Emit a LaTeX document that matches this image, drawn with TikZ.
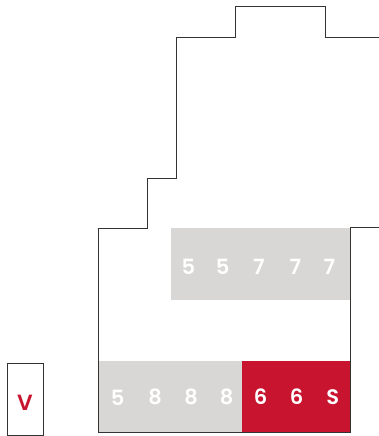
\documentclass[tikz,border=0pt]{standalone}
\usepackage{fontspec}
\setmainfont{Poppins}[BoldFont={Poppins SemiBold}]
\definecolor{cellgray}{HTML}{D8D7D5}
\definecolor{cellred}{HTML}{C8142E}
\definecolor{linegray}{HTML}{333333}
\tikzset{
  outline/.style={draw=linegray, line width=1pt},
  grayfill/.style={fill=cellgray, draw=none},
  redfill/.style={fill=cellred, draw=none},
  digit/.style={text=white, font=\fontsize{21}{21}\selectfont\bfseries, inner sep=0pt},
  vlabel/.style={text=cellred, font=\fontsize{22}{22}\selectfont\bfseries, inner sep=0pt}
}
\begin{document}
\begin{tikzpicture}[x=1pt,y=-1pt]
\useasboundingbox (0,0) rectangle (379,436);
% fills
\fill[grayfill] (171,228) rectangle (350.5,299.5);
\fill[grayfill] (98,361) rectangle (242,432.5);
\fill[redfill] (242,361) rectangle (350.5,432.5);
% outline
\coordinate (p0) at (98,432.5);
\coordinate (p1) at (98,228);
\coordinate (p2) at (147.7,228);
\coordinate (p3) at (147.7,178.7);
\coordinate (p4) at (176.7,178.7);
\coordinate (p5) at (176.7,37.7);
\coordinate (p6) at (235.3,37.7);
\coordinate (p7) at (235.3,6.3);
\coordinate (p8) at (325.7,6.3);
\coordinate (p9) at (325.7,37.7);
\coordinate (p10) at (379,37.7);
\coordinate (q0) at (379,227);
\coordinate (q1) at (350.7,227);
\coordinate (q2) at (350.7,432.5);
\draw[outline] (p0) -- (p1) -- (p2) -- (p3) -- (p4) -- (p5) -- (p6) -- (p7) -- (p8) -- (p9) -- (p10);
\draw[outline] (q0) -- (q1) -- (q2) -- (p0);
% top row digits
\node[digit] (t1) at (188.3,266.7) {5};
\node[digit] (t2) at (222.7,266.7) {5};
\node[digit] (t3) at (259,266.7) {7};
\node[digit] (t4) at (295.3,266.7) {7};
\node[digit] (t5) at (329.3,266.7) {7};
% bottom row
\node[digit] (b1) at (117.7,398) {5};
\node[digit] (b2) at (155,396.7) {8};
\node[digit] (b3) at (191,396.7) {8};
\node[digit] (b4) at (226.7,396.7) {8};
\node[digit] (b5) at (260.7,396.7) {6};
\node[digit] (b6) at (296.7,396.7) {6};
\node[digit] (b7) at (332.7,396.7) {S};
% V box
\node[outline, minimum width=35.6pt, minimum height=71.3pt, inner sep=0pt] (vbox) at (25.5,399.4) {};
\node[vlabel] (v) at (25,403.3) {V};
\end{tikzpicture}
\end{document}
